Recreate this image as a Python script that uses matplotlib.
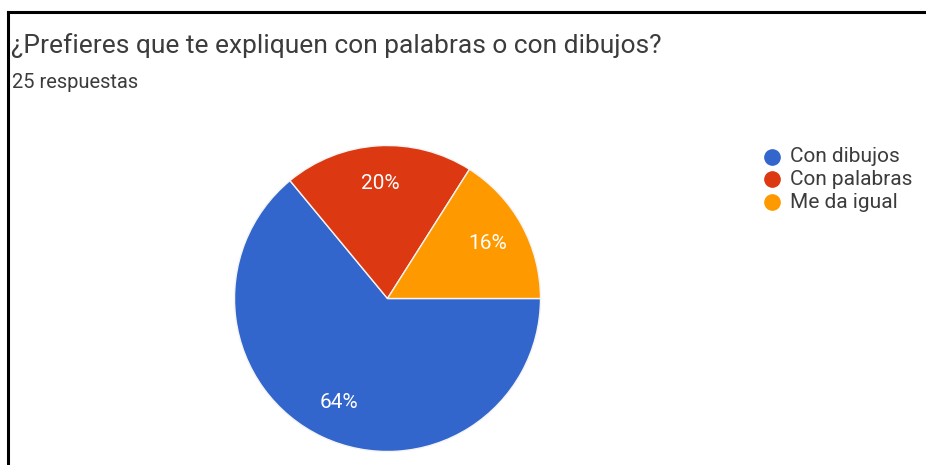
import matplotlib
matplotlib.use("Agg")
import matplotlib.pyplot as plt
from matplotlib.lines import Line2D

plt.rcParams['font.family'] = ['Roboto', 'DejaVu Sans']

title = "¿Prefieres que te expliquen con palabras o con dibujos?"
subtitle = "25 respuestas"
categories = ["Con dibujos", "Con palabras", "Me da igual"]
values = [64, 20, 16]
colors = ["#3366cc", "#dc3912", "#ff9900"]

W, H = 926, 465
fig = plt.figure(figsize=(W / 100, H / 100), dpi=100)
fig.patch.set_facecolor("white")

# frame lines along the top and left edges
fig.add_artist(Line2D([8 / W, 1], [1 - 12 / H, 1 - 12 / H], color="black", lw=2.2,
                      transform=fig.transFigure))
fig.add_artist(Line2D([8 / W, 8 / W], [0, 1 - 12 / H], color="black", lw=2.2,
                      transform=fig.transFigure))

fig.text(11 / W, 1 - 53 / H, title, fontsize=19, color="#3c3c3c",
         ha="left", va="baseline")
fig.text(12 / W, 1 - 88 / H, subtitle, fontsize=14.5, color="#3c3c3c",
         ha="left", va="baseline")

# pie placed as a square in pixel space
cx, cy, r = 387.5, 298.5, 153
ax = fig.add_axes([(cx - r) / W, 1 - (cy + r) / H, 2 * r / W, 2 * r / H])
ax.axis("off")
wedges, texts, autotexts = ax.pie(
    values, colors=colors, startangle=0, counterclock=False, radius=1,
    autopct=lambda p: f"{p:.0f}%", pctdistance=0.75,
    wedgeprops=dict(edgecolor="#f4f4f4", linewidth=1),
    textprops=dict(color="white", fontsize=15))
ax.set_aspect("auto")
ax.set_xlim(-1, 1)
ax.set_ylim(-1, 1)

# legend
for i, (lab, col) in enumerate(zip(categories, colors)):
    y = 157 + i * 22.5
    fig.add_artist(Line2D([772 / W], [1 - y / H], marker="o", markersize=11,
                          color=col, transform=fig.transFigure))
    fig.text(790 / W, 1 - y / H, lab, fontsize=15, color="#3c3c3c",
             ha="left", va="center")

fig.savefig("out.png", dpi=100, facecolor="white")
